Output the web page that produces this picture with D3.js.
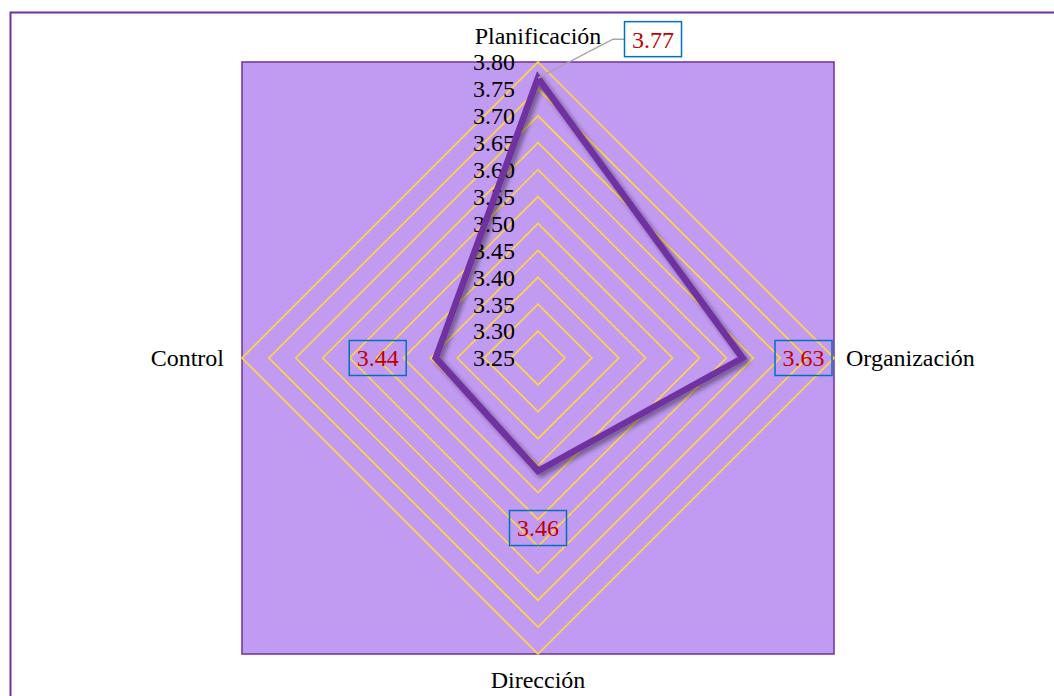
<!DOCTYPE html>
<html>
<head>
<meta charset="utf-8">
<script src="https://cdn.jsdelivr.net/npm/d3@7"></script>
<style>
  html, body { margin: 0; padding: 0; background: #fff; }
  svg { display: block; }
  text { font-family: "Liberation Serif", "Times New Roman", serif; }
</style>
</head>
<body>
<svg id="chart" width="1054" height="696"></svg>
<script>
// ---- data ----
const categories = ["Planificación", "Organización", "Dirección", "Control"];
const values = [3.77, 3.63, 3.46, 3.44];
const valueLabels = ["3.77", "3.63", "3.46", "3.44"];
const tickValues = [3.30, 3.35, 3.40, 3.45, 3.50, 3.55, 3.60, 3.65, 3.70, 3.75, 3.80];
const tickLabels = ["3.25", "3.30", "3.35", "3.40", "3.45", "3.50", "3.55", "3.60", "3.65", "3.70", "3.75", "3.80"];
const axisMin = 3.25, axisMax = 3.80;

// ---- layout ----
const W = 1054, H = 696;
const cx = 538, cy = 358;
const R = 296;
const FS = 24;
const svg = d3.select("#chart");

const defs = svg.append("defs");
const f = defs.append("filter").attr("id", "shadow")
  .attr("x", "-20%").attr("y", "-20%").attr("width", "140%").attr("height", "140%");
f.append("feDropShadow").attr("dx", 3).attr("dy", 3).attr("stdDeviation", 2.5)
  .attr("flood-color", "#000").attr("flood-opacity", 0.45);

// outer chart border
svg.append("rect").attr("x", 10.5).attr("y", 12.5).attr("width", W + 20).attr("height", H + 20)
  .attr("fill", "#fff").attr("stroke", "#7030A0").attr("stroke-width", 2);

// plot area
svg.append("rect").attr("x", cx - R).attr("y", cy - R).attr("width", 2 * R).attr("height", 2 * R)
  .attr("fill", "#C19BF1").attr("stroke", "#7030A0").attr("stroke-width", 1.5);

const r = d3.scaleLinear().domain([axisMin, axisMax]).range([0, R]);
const angle = d3.scalePoint().domain(categories).range([0, 2 * Math.PI * 3 / 4]);
const pt = (cat, v) => {
  const a = angle(cat);
  return [cx + r(v) * Math.sin(a), cy - r(v) * Math.cos(a)];
};

// grid diamonds
const g = svg.append("g");
tickValues.forEach(t => {
  g.append("path")
    .attr("d", d3.line()(categories.map(c => pt(c, t))) + "Z")
    .attr("fill", "none").attr("stroke", "#FFD24A").attr("stroke-width", 1.75);
});

// tick labels
const allTicks = [axisMin].concat(tickValues);
svg.append("g").selectAll("text").data(allTicks).join("text")
  .attr("x", cx - 65)
  .attr("y", d => cy - r(d))
  .attr("dy", "0.35em")
  .attr("font-size", FS)
  .attr("fill", "#000")
  .text((d, i) => tickLabels[i]);

// data line
const pts = categories.map((c, i) => pt(c, values[i]));
svg.append("path")
  .attr("d", d3.line()(pts) + "Z")
  .attr("fill", "none")
  .attr("stroke", "#7030A0")
  .attr("stroke-width", 6.5)
  .attr("stroke-linejoin", "miter")
  .attr("filter", "url(#shadow)");

// category labels
const catPos = [
  { dx: 0, dy: -322, anchor: "middle" },
  { dx: 308, dy: 0, anchor: "start" },
  { dx: 0, dy: 322, anchor: "middle" },
  { dx: -314, dy: 0, anchor: "end" }
];
svg.append("g").selectAll("text").data(categories).join("text")
  .attr("x", (d, i) => cx + catPos[i].dx)
  .attr("y", (d, i) => cy + catPos[i].dy)
  .attr("dy", "0.35em")
  .attr("text-anchor", (d, i) => catPos[i].anchor)
  .attr("font-size", FS)
  .attr("fill", "#000")
  .text(d => d);

// data labels
const labOff = [
  { dx: 115, dy: -39 },
  { dx: 61, dy: 0 },
  { dx: 0, dy: 57 },
  { dx: -58, dy: 0 }
];
// leader line for first label
{
  const p = pts[0];
  const lx = p[0] + labOff[0].dx, ly = p[1] + labOff[0].dy;
  svg.append("path")
    .attr("d", d3.line()([[p[0], p[1]], [lx - 40, ly], [lx - 28, ly]]))
    .attr("fill", "none").attr("stroke", "#A6A6A6").attr("stroke-width", 1.5);
}
const bw = 57, bh = 35;
const lg = svg.append("g");
pts.forEach((p, i) => {
  const lx = p[0] + labOff[i].dx, ly = p[1] + labOff[i].dy;
  lg.append("rect").attr("x", lx - bw / 2).attr("y", ly - bh / 2)
    .attr("width", bw).attr("height", bh)
    .attr("fill", i === 0 ? "#fff" : "none")
    .attr("stroke", "#0070C0").attr("stroke-width", 1.5);
  lg.append("text").attr("x", lx).attr("y", ly).attr("dy", "0.35em")
    .attr("text-anchor", "middle").attr("font-size", FS).attr("fill", "#C00000")
    .text(valueLabels[i]);
});
</script>
</body>
</html>
